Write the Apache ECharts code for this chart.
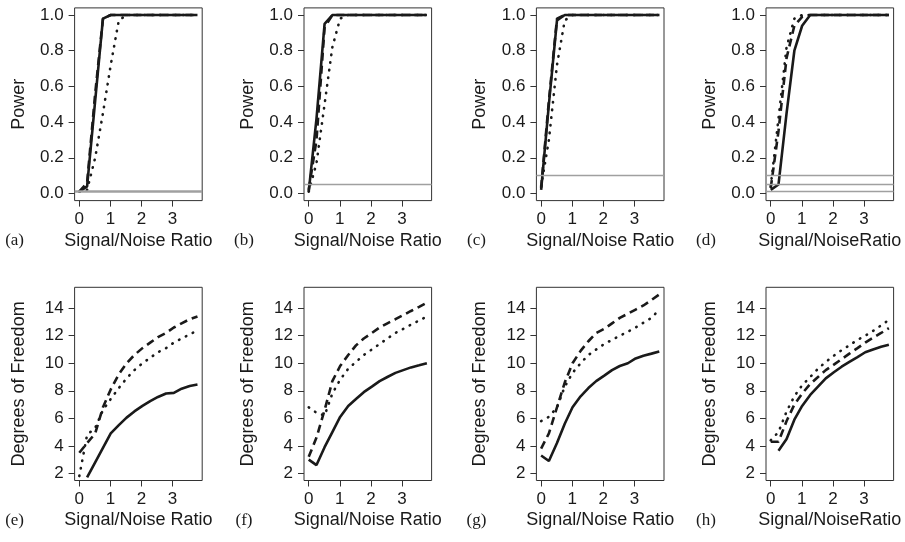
<!DOCTYPE html>
<html><head><meta charset="utf-8">
<script src="https://cdn.jsdelivr.net/npm/echarts@6/dist/echarts.min.js"></script>
<style>html,body{margin:0;padding:0;background:#fff}#c{width:905px;height:542px}</style>
</head><body><div id="c"></div>
<script>
// ---- data ----
const snr = [0, 0.25, 0.51, 0.76, 1.01, 1.27, 1.52, 1.77, 2.03, 2.28, 2.53, 2.79, 3.04, 3.29, 3.55, 3.8];
const xTicks = [0, 1, 2, 3];
const powerTicks = [0, 0.2, 0.4, 0.6, 0.8, 1.0];
const dfTicks = [2, 4, 6, 8, 10, 12, 14];
const panelLabels = ['(a)', '(b)', '(c)', '(d)', '(e)', '(f)', '(g)', '(h)'];
const xTitles = ['Signal/Noise Ratio', 'Signal/Noise Ratio', 'Signal/Noise Ratio', 'Signal/NoiseRatio'];
const alphaA = [0.01];
const alphaB = [0.05];
const alphaC = [0.1];
const alphaD = [0.01, 0.05, 0.1];

const aSolid  = [0.01, 0.04, 0.52, 0.98, 1, 1, 1, 1, 1, 1, 1, 1, 1, 1, 1, 1];
const aDashed = [0.01, 0.06, 0.56, 0.98, 1, 1, 1, 1, 1, 1, 1, 1, 1, 1, 1, 1];
const aDotted = [0.01, 0.02, 0.2, 0.45, 0.72, 0.97, 1, 1, 1, 1, 1, 1, 1, 1, 1, 1];

const bSolid  = [0.01, 0.42, 0.95, 1, 1, 1, 1, 1, 1, 1, 1, 1, 1, 1, 1, 1];
const bDashed = [0.02, 0.3, 0.93, 1, 1, 1, 1, 1, 1, 1, 1, 1, 1, 1, 1, 1];
const bDotted = [0.01, 0.17, 0.5, 0.82, 0.98, 1, 1, 1, 1, 1, 1, 1, 1, 1, 1, 1];

const cSolid  = [0.02, 0.5, 0.97, 1, 1, 1, 1, 1, 1, 1, 1, 1, 1, 1, 1, 1];
const cDashed = [0.03, 0.52, 0.98, 1, 1, 1, 1, 1, 1, 1, 1, 1, 1, 1, 1, 1];
const cDotted = [0.04, 0.3, 0.72, 0.97, 1, 1, 1, 1, 1, 1, 1, 1, 1, 1, 1, 1];

const dSolid  = [0.02, 0.05, 0.45, 0.8, 0.94, 1, 1, 1, 1, 1, 1, 1, 1, 1, 1, 1];
const dDashed = [0.03, 0.35, 0.76, 0.94, 0.99, 1, 1, 1, 1, 1, 1, 1, 1, 1, 1, 1];
const dDotted = [0.04, 0.42, 0.82, 0.98, 1, 1, 1, 1, 1, 1, 1, 1, 1, 1, 1, 1];

const eSolid  = [null, 1.7, 2.8, 3.85, 4.9, 5.5, 6.05, 6.5, 6.9, 7.25, 7.55, 7.8, 7.85, 8.15, 8.35, 8.45];
const eDashed = [3.5, 4.2, 4.9, 6.8, 8.1, 9.2, 10.0, 10.6, 11.1, 11.5, 11.9, 12.2, 12.6, 12.9, 13.2, 13.4];
const eDotted = [1.8, 4.8, 5.3, 6.6, 7.4, 8.2, 8.9, 9.5, 10.0, 10.4, 10.8, 11.1, 11.5, 11.8, 12.1, 12.4];

const fSolid  = [3.0, 2.6, 3.9, 5.0, 6.1, 6.9, 7.4, 7.9, 8.3, 8.7, 9.0, 9.3, 9.5, 9.7, 9.85, 10.0];
const fDashed = [3.2, 4.6, 6.6, 8.7, 9.8, 10.6, 11.3, 11.8, 12.2, 12.6, 12.9, 13.2, 13.5, 13.8, 14.1, 14.4];
const fDotted = [6.8, 6.4, 6.2, 7.8, 8.8, 9.6, 10.1, 10.6, 11.0, 11.4, 11.8, 12.2, 12.5, 12.8, 13.1, 13.4];

const gSolid  = [3.3, 2.9, 4.2, 5.6, 6.8, 7.6, 8.2, 8.7, 9.1, 9.5, 9.8, 10.0, 10.35, 10.55, 10.7, 10.85];
const gDashed = [3.8, 4.9, 6.8, 8.6, 10.0, 10.9, 11.6, 12.2, 12.5, 12.9, 13.3, 13.6, 13.9, 14.2, 14.6, 15.0];
const gDotted = [5.8, 6.1, 6.8, 8.3, 9.3, 10.0, 10.6, 11.0, 11.4, 11.7, 12.0, 12.3, 12.6, 12.95, 13.3, 13.9];

const hSolid  = [null, 3.65, 4.5, 5.9, 6.9, 7.7, 8.3, 8.9, 9.35, 9.75, 10.1, 10.45, 10.8, 11.0, 11.2, 11.35];
const hDashed = [4.3, 4.3, 5.8, 7.0, 7.8, 8.5, 9.0, 9.5, 9.9, 10.3, 10.7, 11.1, 11.5, 11.85, 12.2, 12.55];
const hDotted = [4.4, 5.0, 6.5, 7.6, 8.4, 9.0, 9.6, 10.1, 10.55, 10.95, 11.3, 11.7, 12.0, 12.35, 12.75, 13.15];

// ---- build ----
const panels = [
  {s: aSolid, d: aDashed, o: aDotted, alpha: alphaA, aw: 2.6},
  {s: bSolid, d: bDashed, o: bDotted, alpha: alphaB, aw: 1.4},
  {s: cSolid, d: cDashed, o: cDotted, alpha: alphaC, aw: 1.4},
  {s: dSolid, d: dDashed, o: dDotted, alpha: alphaD, aw: 1.4},
  {s: eSolid, d: eDashed, o: eDotted},
  {s: fSolid, d: fDashed, o: fDotted},
  {s: gSolid, d: gDashed, o: gDotted},
  {s: hSolid, d: hDashed, o: hDotted}
];

const colLeft = [74.6, 304, 536.4, 766];
const boxW = 127.6;
const rowTop = [7.9, 287.3];
const boxH = [192.7, 193.2];
const INK = '#1a1a1a';
const SANS = '"Liberation Sans", Arial, Helvetica, sans-serif';
const TICK_FS = 17, TITLE_FS = 18;

const grids = [], xAxes = [], yAxes = [], series = [], graphics = [];
const pair = arr => snr.map((x, i) => [x, arr[i]]);

panels.forEach((p, i) => {
  const r = i < 4 ? 0 : 1, c = i % 4;
  const top = r === 0;
  grids.push({left: colLeft[c], top: rowTop[r], width: boxW, height: boxH[r],
    show: true, borderColor: '#333', borderWidth: 1, backgroundColor: 'transparent', containLabel: false});
  xAxes.push({type: 'value', gridIndex: i, min: -0.152, max: 3.952,
    name: xTitles[c], nameLocation: 'middle', nameGap: 31,
    nameTextStyle: {fontFamily: SANS, fontSize: TITLE_FS, color: INK},
    axisLine: {show: false, onZero: false},
    axisTick: {show: true, length: 6, inside: false, customValues: xTicks, lineStyle: {color: '#333', width: 1}},
    axisLabel: {customValues: xTicks, margin: 10, fontFamily: SANS, fontSize: TICK_FS, color: INK},
    splitLine: {show: false}});
  const ticks = top ? powerTicks : dfTicks;
  yAxes.push({type: 'value', gridIndex: i,
    min: top ? -0.04 : 1.48, max: top ? 1.04 : 15.52,
    name: top ? 'Power' : 'Degrees of Freedom', nameLocation: 'middle', nameRotate: 90, nameGap: 47,
    nameTextStyle: {fontFamily: SANS, fontSize: TITLE_FS, color: INK},
    axisLine: {show: false, onZero: false},
    axisTick: {show: true, length: 6, customValues: ticks, lineStyle: {color: '#333', width: 1}},
    axisLabel: {customValues: ticks, margin: 11, fontFamily: SANS, fontSize: TICK_FS, color: INK,
      formatter: v => top ? Number(v).toFixed(1) : String(Math.round(v))},
    splitLine: {show: false}});
  const base = {type: 'line', xAxisIndex: i, yAxisIndex: i, showSymbol: false, symbol: 'none',
    connectNulls: false, clip: true, animation: false, silent: true};
  series.push(Object.assign({}, base, {data: pair(p.o), z: 3,
    lineStyle: {color: INK, width: 2.6, type: [0.5, 7.2], cap: 'round'}}));
  series.push(Object.assign({}, base, {data: pair(p.d), z: 3,
    lineStyle: {color: INK, width: 2.6, type: [8, 5]}}));
  const solid = Object.assign({}, base, {data: pair(p.s), z: 4,
    lineStyle: {color: INK, width: 2.6, type: 'solid'}});
  if (p.alpha) {
    solid.markLine = {silent: true, symbol: 'none', animation: false, label: {show: false},
      lineStyle: {color: '#a0a0a0', type: 'solid', width: p.aw},
      data: p.alpha.map(a => ({yAxis: a}))};
  }
  series.push(solid);
  graphics.push({type: 'text', x: colLeft[c] - 60, y: rowTop[r] + boxH[r] + 40,
    style: {text: panelLabels[i], align: 'center', verticalAlign: 'middle',
      font: '17px "Liberation Serif", "Times New Roman", serif', fill: INK}});
});

const chart = echarts.init(document.getElementById('c'), null, {renderer: 'canvas'});
chart.setOption({animation: false, grid: grids, xAxis: xAxes, yAxis: yAxes, series: series, graphic: graphics});
</script>
</body></html>
